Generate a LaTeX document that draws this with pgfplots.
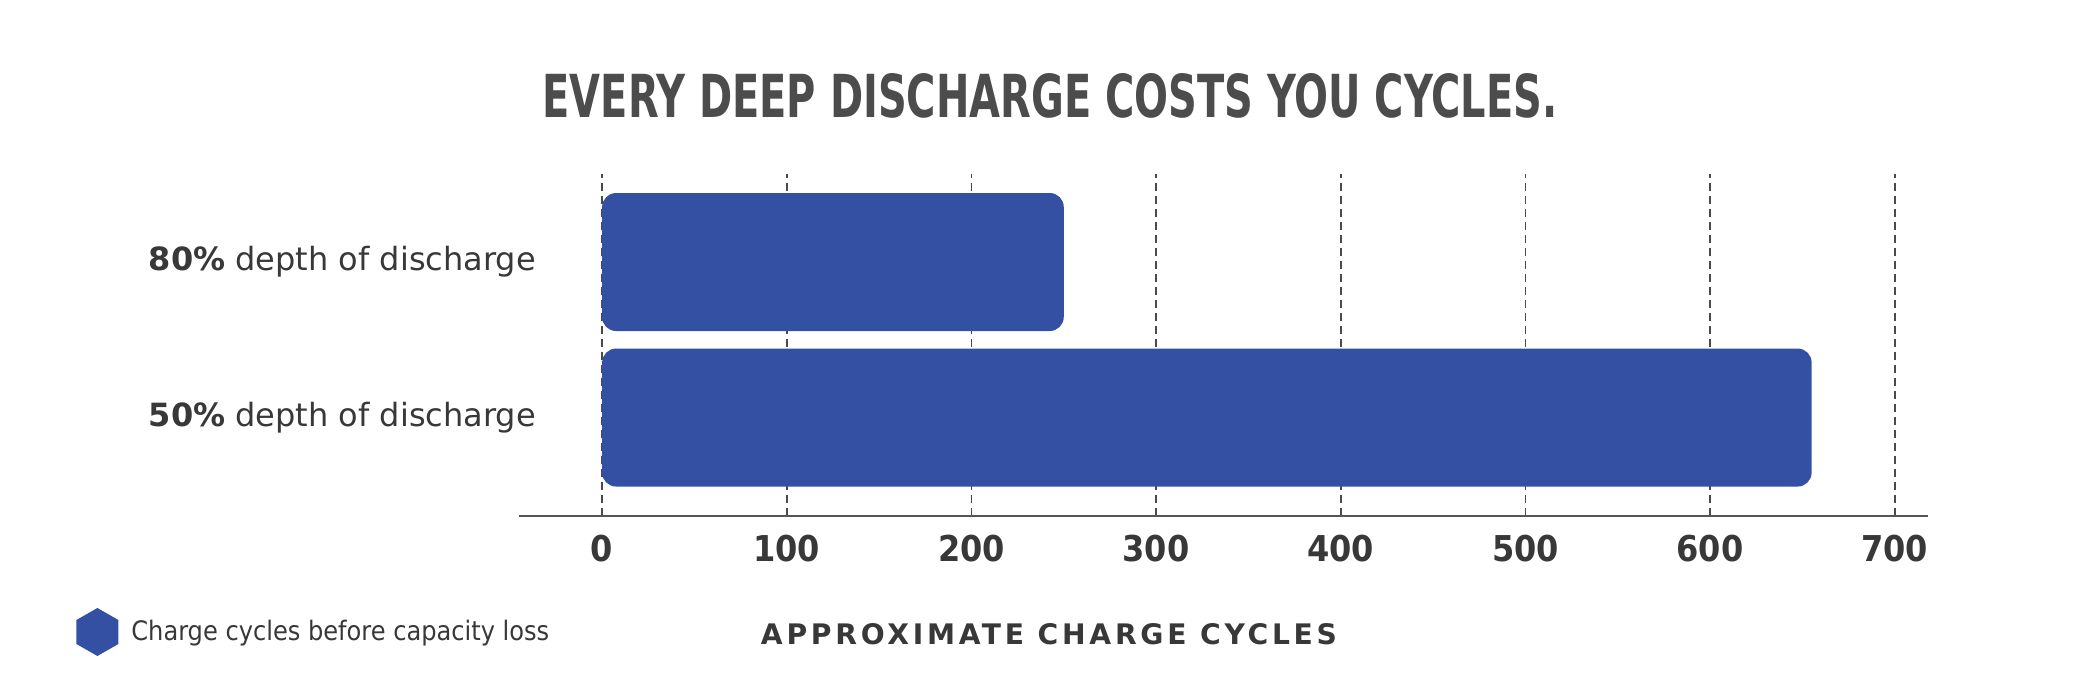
\documentclass[border=0pt]{standalone}
\usepackage{fontspec}
\setmainfont{DejaVu Sans Condensed}
\newfontfamily\labfont{DejaVu Sans}
\usepackage{pgfplots}
\usepackage{pgfplotstable}
\usepackage{graphicx}
\pgfplotsset{compat=1.18}
\definecolor{barblue}{HTML}{3450A3}
\definecolor{txt}{HTML}{383838}
\definecolor{gridc}{HTML}{4A4A4A}
\definecolor{axisc}{HTML}{555555}
\pgfplotstableread{
y x
0 655
1 250
}\datatable
\begin{document}
\begin{tikzpicture}
\path[use as bounding box] (0,0) rectangle (1050pt,350pt);
\begin{axis}[
  at={(259.5pt,92pt)}, anchor=south west,
  scale only axis, width=704.5pt, height=171pt,
  xmin=-45, xmax=718, ymin=-0.633, ymax=1.566,
  xbar, bar width=69pt,
  axis x line*=bottom, axis y line*=left,
  x axis line style={color=axisc, line width=1pt, -},
  y axis line style={draw=none},
  xtick={0,100,...,700}, xtick style={draw=none},
  ytick={0,1}, ytick style={draw=none},
  yticklabels={{\textbf{50\%} depth of discharge},{\textbf{80\%} depth of discharge}},
  xmajorgrids, major grid style={color=gridc, dash pattern=on 4pt off 2.5pt, line width=0.9pt},
  xticklabel style={font=\fontsize{17.8}{20}\selectfont\bfseries, text=txt, yshift=-6pt},
  /pgf/number format/assume math mode=true,
  yticklabel style={font=\labfont\fontsize{16}{19}\selectfont, text=txt, anchor=west, inner sep=0pt, xshift=-181pt},
  legend style={at={(axis description cs:-0.3144,-0.3392)}, anchor=west, draw=none, fill=none, inner sep=0pt,
    font=\fontsize{13.4}{16}\selectfont, text=txt,
    /tikz/every odd column/.append style={column sep=4.5pt}},
]
\addplot[xbar, fill=barblue, draw=none, rounded corners=7pt,
  legend image code/.code={\fill[barblue, sharp corners] (10.5pt,12pt)--(21pt,6pt)--(21pt,-6pt)--(10.5pt,-12pt)--(0pt,-6pt)--(0pt,6pt)--cycle;}]
  table[x=x,y=y]{\datatable};
\addlegendentry{Charge cycles before capacity loss}
\end{axis}
\node[text=txt!90!white, inner sep=0pt] at (525pt,302pt) {\resizebox{507.5pt}{22pt}{\bfseries EVERY DEEP DISCHARGE COSTS YOU CYCLES.}};
\node[text=txt, inner sep=0pt] at (524.5pt,33pt) {\resizebox{288pt}{10.5pt}{\addfontfeatures{LetterSpace=12}\bfseries APPROXIMATE CHARGE CYCLES}};
\end{tikzpicture}
\end{document}
